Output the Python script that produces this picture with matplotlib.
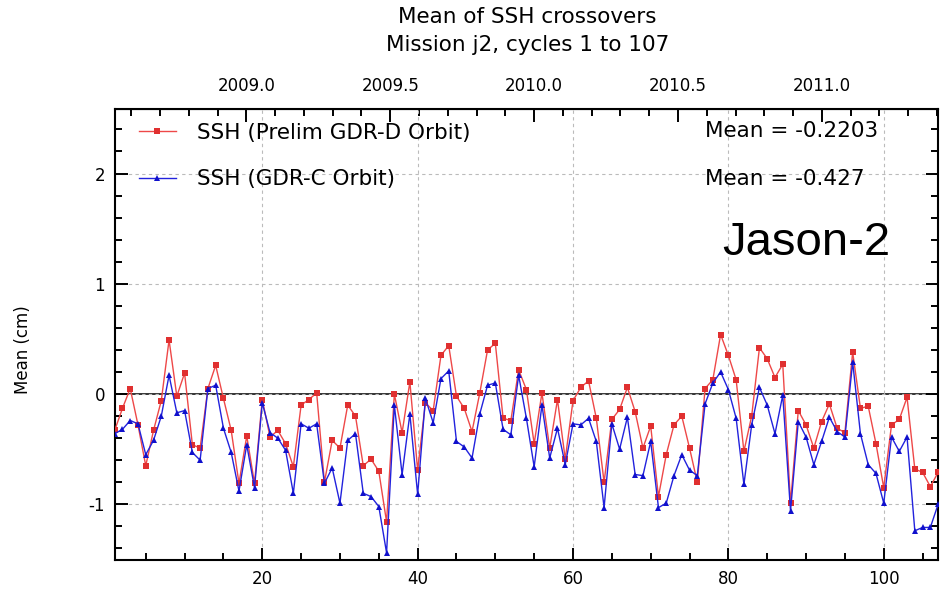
import matplotlib
matplotlib.use('Agg')
import matplotlib.pyplot as plt
import numpy as np
from matplotlib.ticker import MultipleLocator, FixedLocator, FormatStrFormatter

plt.rcParams['axes.unicode_minus'] = False

cycles = np.arange(1, 108)

ssh_gdrd = [-0.33, -0.13, 0.05, -0.28, -0.65, -0.33, -0.06, 0.49, -0.02, 0.19,
            -0.46, -0.49, 0.05, 0.26, -0.04, -0.33, -0.81, -0.38, -0.81, -0.05,
            -0.39, -0.33, -0.45, -0.66, -0.10, -0.05, 0.01, -0.80, -0.42, -0.49,
            -0.10, -0.20, -0.65, -0.59, -0.70, -1.16, 0.00, -0.35, 0.11, -0.69,
            -0.08, -0.15, 0.35, 0.44, -0.02, -0.13, -0.34, 0.01, 0.40, 0.46,
            -0.22, -0.24, 0.22, 0.04, -0.45, 0.01, -0.49, -0.05, -0.59, -0.06,
            0.06, 0.12, -0.22, -0.80, -0.23, -0.14, 0.06, -0.16, -0.49, -0.29,
            -0.93, -0.55, -0.28, -0.20, -0.49, -0.80, 0.05, 0.13, 0.54, 0.35,
            0.13, -0.52, -0.20, 0.42, 0.32, 0.15, 0.27, -0.99, -0.15, -0.28,
            -0.49, -0.25, -0.09, -0.31, -0.35, 0.38, -0.13, -0.11, -0.45, -0.85,
            -0.28, -0.23, -0.03, -0.68, -0.71, -0.84, -0.71]

ssh_gdrc = [-0.36, -0.32, -0.24, -0.27, -0.55, -0.42, -0.20, 0.17, -0.17, -0.15,
            -0.53, -0.60, 0.05, 0.08, -0.31, -0.53, -0.88, -0.46, -0.85, -0.08,
            -0.35, -0.40, -0.51, -0.90, -0.27, -0.31, -0.27, -0.81, -0.67, -0.99,
            -0.42, -0.36, -0.90, -0.93, -1.02, -1.44, -0.10, -0.73, -0.18, -0.91,
            -0.04, -0.26, 0.14, 0.21, -0.43, -0.48, -0.58, -0.18, 0.08, 0.10,
            -0.32, -0.37, 0.17, -0.22, -0.66, -0.10, -0.58, -0.31, -0.64, -0.27,
            -0.28, -0.22, -0.43, -1.03, -0.27, -0.50, -0.21, -0.73, -0.74, -0.43,
            -1.03, -0.99, -0.74, -0.55, -0.69, -0.74, -0.09, 0.10, 0.20, 0.04,
            -0.22, -0.82, -0.28, 0.06, -0.10, -0.36, -0.01, -1.06, -0.25, -0.39,
            -0.64, -0.43, -0.21, -0.34, -0.39, 0.29, -0.36, -0.64, -0.72, -0.99,
            -0.39, -0.52, -0.39, -1.24, -1.21, -1.21, -1.00]

labels = ['SSH (Prelim GDR-D Orbit)', 'SSH (GDR-C Orbit)']
mean_texts = ['Mean = -0.2203', 'Mean = -0.427']
year_ticks = [2009.0, 2009.5, 2010.0, 2010.5, 2011.0]

# cycle <-> decimal year (cycle 17.95 ~ 2009.0, ~37 cycles per year)
cycle_2009 = 17.95
cycles_per_year = 37.04


def cycle_to_year(c):
    return 2009.0 + (np.asarray(c) - cycle_2009) / cycles_per_year


def year_to_cycle(y):
    return cycle_2009 + (np.asarray(y) - 2009.0) * cycles_per_year


fig = plt.figure(figsize=(9.4, 5.91), dpi=100)
ax = fig.add_axes([0.122, 0.0525, 0.876, 0.763])

ax.axhline(0, color='#333333', linewidth=1.4, zorder=1.5)
ax.plot(cycles, ssh_gdrd, color='#ee4848', linewidth=1.0, marker='s', markersize=3.8,
        markeredgewidth=0, markerfacecolor='#e03030', label=labels[0], zorder=3)
ax.plot(cycles, ssh_gdrc, color='#2222dd', linewidth=1.0, marker='^', markersize=4,
        markeredgewidth=0, markerfacecolor='#1010cc', label=labels[1], zorder=3)

ax.set_xlim(1, 107)
ax.set_ylim(-1.505, 2.585)
ax.xaxis.set_major_locator(MultipleLocator(20))
ax.xaxis.set_minor_locator(MultipleLocator(5))
ax.yaxis.set_major_locator(MultipleLocator(1))
ax.yaxis.set_minor_locator(MultipleLocator(0.2))
ax.tick_params(which='both', direction='in', width=1.4, labelsize=12, right=True, top=False)
ax.tick_params(which='major', length=9)
ax.tick_params(which='minor', length=5)
ax.tick_params(axis='x', pad=7)
ax.tick_params(axis='y', pad=7)
ax.grid(True, which='major', linestyle=(0, (3, 3)), color='#bbbbbb', linewidth=0.8)
for s in ax.spines.values():
    s.set_linewidth(1.5)

top = ax.secondary_xaxis('top', functions=(cycle_to_year, year_to_cycle))
top.xaxis.set_major_locator(FixedLocator(year_ticks))
top.xaxis.set_minor_locator(MultipleLocator(0.1))
top.xaxis.set_major_formatter(FormatStrFormatter('%.1f'))
top.tick_params(which='both', direction='in', width=1.4, labelsize=12, pad=10)
top.tick_params(which='major', length=9)
top.tick_params(which='minor', length=5)

ax.set_ylabel('Mean (cm)', fontsize=12)
ax.yaxis.set_label_coords(-0.1005, 0.466)

leg = ax.legend(loc='upper left', bbox_to_anchor=(0.006, 1.013), frameon=False, fontsize=15.5,
                handlelength=1.7, handletextpad=1.0, labelspacing=1.25, numpoints=1,
                borderaxespad=0.5)

ax.text(0.717, 0.951, mean_texts[0], transform=ax.transAxes, fontsize=15.5, va='center')
ax.text(0.717, 0.845, mean_texts[1], transform=ax.transAxes, fontsize=15.5, va='center')
ax.text(0.738, 0.703, 'Jason-2', transform=ax.transAxes, fontsize=34,
        family='Liberation Sans', va='center')

fig.text(0.561, 1 - 17 / 591, 'Mean of SSH crossovers', ha='center', va='center', fontsize=15.5)
fig.text(0.561, 1 - 45 / 591, 'Mission j2, cycles 1 to 107', ha='center', va='center', fontsize=15.5)

fig.savefig('out.png', dpi=100)
